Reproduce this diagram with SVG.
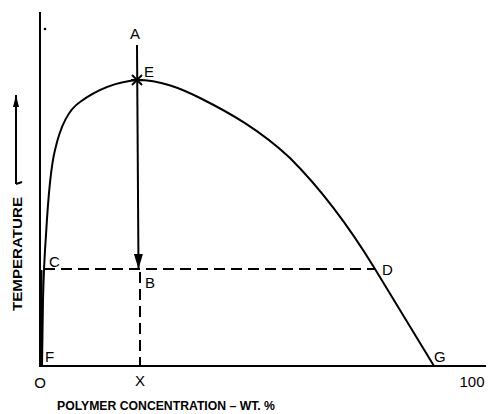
<svg xmlns="http://www.w3.org/2000/svg" width="497" height="414" viewBox="0 0 497 414">
<style>
.ln{stroke:#000;fill:none;stroke-width:2}
.dash{stroke:#000;fill:none;stroke-width:2;stroke-dasharray:11,6}
.lb{font-family:"Liberation Sans",Arial,sans-serif;font-size:15px;fill:#000}
.ax{font-family:"Liberation Sans",Arial,sans-serif;font-size:13px;fill:#000;font-weight:bold}
</style>
<defs>
<marker id="ah" markerWidth="15" markerHeight="9" refX="15" refY="4.5" orient="auto" markerUnits="userSpaceOnUse" viewBox="0 0 15 9">
<path d="M0,0 L15,4.5 L0,9 Z" fill="#000"/>
</marker>
<marker id="ahu" markerWidth="12" markerHeight="6" refX="12" refY="3" orient="auto" markerUnits="userSpaceOnUse" viewBox="0 0 12 6">
<path d="M0,0 L12,3 L0,6 Z" fill="#000"/>
</marker>
</defs>
<rect width="497" height="414" fill="#fff"/>
<g id="axes">
<line class="ln" x1="40" y1="12" x2="40" y2="367"/>
<line class="ln" x1="39" y1="366" x2="486" y2="366"/>
<circle cx="45" cy="29" r="1.3" fill="#000"/>
</g>
<g id="curve">
<path class="ln" d="M42,366 L43,300 C43.5,280 44,262 46,235 C48,200 50,170 55,150 C60,128 68,110 80,102 C95,91 115,82 137,80 C160,80 180,88 200,98 C230,113 260,130 290,158 C320,188 350,228 375,269 L434,366" stroke-width="2.2"/>
<line class="ln" x1="41.5" y1="270" x2="41.5" y2="366" stroke-width="3"/>
</g>
<g id="connectors">
<line class="ln" x1="137" y1="45" x2="138.5" y2="269" marker-end="url(#ah)"/>
<line class="dash" x1="44" y1="269" x2="375" y2="269"/>
<line class="dash" x1="140" y1="272" x2="140" y2="366"/>
<line class="ln" x1="16" y1="184" x2="16" y2="95" stroke-width="1.5" marker-end="url(#ahu)"/>
<line class="ln" x1="16" y1="184" x2="22" y2="182" stroke-width="1.2"/>
</g>
<g id="E-mark">
<line class="ln" x1="132" y1="75" x2="142" y2="85" stroke-width="1.8"/>
<line class="ln" x1="142" y1="75" x2="132" y2="85" stroke-width="1.8"/>
<line class="ln" x1="131" y1="80" x2="143" y2="80" stroke-width="1.8"/>
</g>
<g id="labels">
<text class="lb" x="135" y="39" text-anchor="middle">A</text>
<text class="lb" x="144" y="77">E</text>
<text class="lb" x="49" y="267">C</text>
<text class="lb" x="145" y="288">B</text>
<text class="lb" x="382" y="275">D</text>
<text class="lb" x="45" y="362">F</text>
<text class="lb" x="434" y="362">G</text>
<text class="lb" x="40" y="388" text-anchor="middle">O</text>
<text class="lb" x="140" y="386" text-anchor="middle">X</text>
<text class="lb" x="472" y="387" text-anchor="middle">100</text>
<text class="ax" x="57" y="410" textLength="218" lengthAdjust="spacingAndGlyphs">POLYMER  CONCENTRATION – WT.  %</text>
<text class="ax" transform="translate(22,311) rotate(-90)" textLength="114" lengthAdjust="spacingAndGlyphs">TEMPERATURE</text>
</g>
</svg>
